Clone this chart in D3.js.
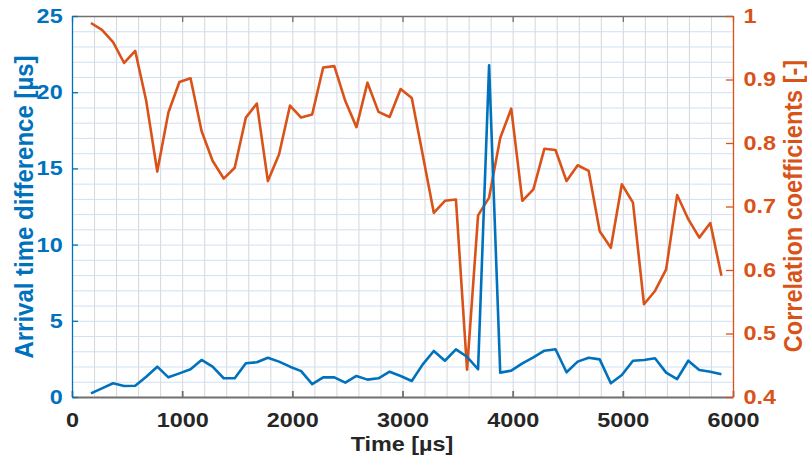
<!DOCTYPE html>
<html>
<head>
<meta charset="utf-8">
<script src="https://cdn.jsdelivr.net/npm/d3@7/dist/d3.min.js"></script>
<style>
body { margin: 0; background: #fff; }
text { font-family: "Liberation Sans", Arial, sans-serif; font-weight: bold; }
</style>
</head>
<body>
<div class="chart"></div>
<script>
// sample times [µs]
var time = [172, 272, 373, 473, 574, 674, 774, 875, 975, 1076,
	1176, 1276, 1377, 1477, 1578, 1678, 1778, 1879, 1979, 2080,
	2180, 2280, 2381, 2481, 2582, 2682, 2782, 2883, 2983, 3084,
	3184, 3284, 3385, 3485, 3586, 3686, 3786, 3887, 3987, 4088,
	4188, 4288, 4389, 4489, 4590, 4690, 4790, 4891, 4991, 5092,
	5192, 5292, 5393, 5493, 5594, 5694, 5794, 5895];

// arrival time difference [µs] (left axis)
var arrival = [0.24, 0.57, 0.90, 0.72, 0.74, 1.33, 1.99, 1.29, 1.55, 1.82,
	2.43, 1.99, 1.23, 1.23, 2.21, 2.28, 2.58, 2.32, 1.99, 1.70,
	0.85, 1.29, 1.29, 0.94, 1.38, 1.14, 1.23, 1.66, 1.38, 1.05,
	2.14, 3.02, 2.38, 3.13, 2.64, 1.82, 21.77, 1.60, 1.73, 2.21,
	2.60, 3.04, 3.13, 1.62, 2.32, 2.58, 2.47, 0.90, 1.44, 2.38,
	2.43, 2.54, 1.60, 1.18, 2.38, 1.77, 1.66, 1.49];

// correlation coefficients [-] (right axis)
var corr = [0.989, 0.978, 0.959, 0.926, 0.945, 0.866, 0.755, 0.848, 0.896, 0.902,
	0.819, 0.772, 0.744, 0.761, 0.840, 0.862, 0.740, 0.782, 0.859, 0.840,
	0.845, 0.919, 0.921, 0.866, 0.825, 0.895, 0.849, 0.841, 0.885, 0.871,
	0.781, 0.690, 0.709, 0.711, 0.443, 0.686, 0.714, 0.808, 0.854, 0.709,
	0.727, 0.791, 0.789, 0.740, 0.765, 0.756, 0.661, 0.635, 0.735, 0.706,
	0.546, 0.567, 0.601, 0.718, 0.680, 0.651, 0.674, 0.591];

var xTicks = [0, 1000, 2000, 3000, 4000, 5000, 6000];
var leftTicks = [0, 5, 10, 15, 20, 25];
var rightTicks = [0.4, 0.5, 0.6, 0.7, 0.8, 0.9, 1];

var blue = "#0072BD";
var orange = "#D95319";
var stretch = "scale(1.17,1)";

function makeChart() {
	var width = 807;
	var height = 460;
	var left = 72, right = 733, top = 16, bottom = 397;

	var svg = d3.select(".chart").append("svg")
		.attr("width", width).attr("height", height);

	var xScale = d3.scaleLinear().domain([0, 6000]).range([left, right]);
	var yLeft = d3.scaleLinear().domain([0, 25]).range([bottom, top]);
	var yRight = d3.scaleLinear().domain([0.4, 1]).range([bottom, top]);

	// grid: vertical every 200 µs, horizontal every 1 µs of left axis
	svg.append("g").attr("transform", "translate(0," + bottom + ")")
		.call(d3.axisBottom(xScale).tickValues(d3.range(200, 6000, 200))
			.tickSize(-(bottom - top)).tickFormat(""))
		.call(g => g.select(".domain").remove())
		.selectAll("line").attr("stroke", "#d3d7de").attr("stroke-width", 1);

	svg.append("g").attr("transform", "translate(" + left + ",0)")
		.call(d3.axisLeft(yLeft).tickValues(d3.range(1, 25, 1))
			.tickSize(-(right - left)).tickFormat(""))
		.call(g => g.select(".domain").remove())
		.selectAll("line").attr("stroke", "#d0e0f3").attr("stroke-width", 1);

	// lines
	var lineL = d3.line().x((d, i) => xScale(time[i])).y(d => yLeft(d));
	var lineR = d3.line().x((d, i) => xScale(time[i])).y(d => yRight(d));

	svg.append("path").datum(corr).attr("d", lineR)
		.attr("fill", "none").attr("stroke", orange).attr("stroke-width", 2.6)
		.attr("stroke-linejoin", "round");
	svg.append("path").datum(arrival).attr("d", lineL)
		.attr("fill", "none").attr("stroke", blue).attr("stroke-width", 2.6)
		.attr("stroke-linejoin", "round");

	// top border
	svg.append("g").attr("transform", "translate(0," + top + ")")
		.call(d3.axisTop(xScale).tickValues(xTicks).tickSizeInner(-6).tickSizeOuter(0).tickFormat(""))
		.call(g => g.selectAll("path,line").attr("stroke", "#707070").attr("stroke-width", 1.3));

	// bottom axis
	var xAxis = svg.append("g").attr("transform", "translate(0," + bottom + ")")
		.call(d3.axisBottom(xScale).tickValues(xTicks).tickSizeInner(-6).tickSizeOuter(0).tickPadding(16)
			.tickFormat(d3.format("d")));
	xAxis.selectAll("path,line").attr("stroke", "#707070").attr("stroke-width", 1.8);
	xAxis.selectAll("text").attr("font-size", 20).attr("fill", "#262626")
		.attr("font-family", null).attr("transform", stretch);

	// left axis
	var yAxisL = svg.append("g").attr("transform", "translate(" + left + ",0)")
		.call(d3.axisLeft(yLeft).tickValues(leftTicks).tickSizeInner(-6).tickSizeOuter(0).tickPadding(8));
	yAxisL.selectAll("path,line").attr("stroke", blue).attr("stroke-width", 1.3);
	yAxisL.selectAll("text").attr("font-size", 20).attr("fill", blue)
		.attr("font-family", null).attr("transform", stretch);

	// right axis
	var yAxisR = svg.append("g").attr("transform", "translate(" + right + ",0)")
		.call(d3.axisRight(yRight).tickValues(rightTicks).tickSizeInner(-7).tickSizeOuter(0).tickPadding(9)
			.tickFormat(d3.format("~g")));
	yAxisR.selectAll("path,line").attr("stroke", orange).attr("stroke-width", 1.3);
	yAxisR.selectAll("text").attr("font-size", 20).attr("fill", orange)
		.attr("font-family", null).attr("transform", stretch);

	// axis titles
	svg.append("text").attr("transform", "translate(402,451) " + stretch)
		.attr("text-anchor", "middle").attr("font-size", 20).attr("fill", "#262626")
		.text("Time [µs]");

	svg.append("text").attr("transform", "translate(33,207) scale(1.1,1) rotate(-90)")
		.attr("text-anchor", "middle").attr("font-size", 24).attr("fill", blue)
		.text("Arrival time difference [µs]");

	svg.append("text").attr("transform", "translate(802,206) scale(1.1,1) rotate(-90)")
		.attr("text-anchor", "middle").attr("font-size", 23.5).attr("fill", orange)
		.text("Correlation coefficients [-]");
}

makeChart();
</script>
</body>
</html>
